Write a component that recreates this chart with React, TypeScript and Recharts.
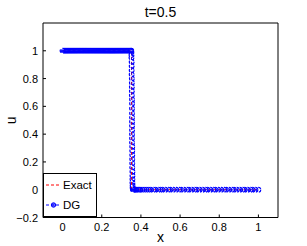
import { Label, Legend, Line, LineChart, XAxis, YAxis } from 'recharts'

const FONT = '"Liberation Sans", Arial, Helvetica, sans-serif'
const BLUE = '#0000FF'
const RED = '#FF0000'

const title = 't=0.5'
const legendOrder = ['Exact', 'DG']
const xTicks = [0, 0.2, 0.4, 0.6, 0.8, 1]
const uTicks = [-0.2, 0, 0.2, 0.4, 0.6, 0.8, 1]

// exact solution: step at the shock
const exactX = [0, 0.352, 0.352, 1]
const exactU = [1, 1, 0, 0]

// DG nodal values (dense left state, then the shock, then the right state)
const plateauX = [
  0, 0.005, 0.01, 0.015, 0.02, 0.025, 0.03, 0.035, 0.04, 0.045, 0.05, 0.055,
  0.06, 0.065, 0.07, 0.075, 0.08, 0.085, 0.09, 0.095, 0.1, 0.105, 0.11, 0.115,
  0.12, 0.125, 0.13, 0.135, 0.14, 0.145, 0.15, 0.155, 0.16, 0.165, 0.17, 0.175,
  0.18, 0.185, 0.19, 0.195, 0.2, 0.205, 0.21, 0.215, 0.22, 0.225, 0.23, 0.235,
  0.24, 0.245, 0.25, 0.255, 0.26, 0.265, 0.27, 0.275, 0.28, 0.285, 0.29, 0.295,
  0.3, 0.305, 0.31, 0.315, 0.32, 0.325, 0.33, 0.335, 0.34, 0.345, 0.349, 0.351,
]
const dropX = [
  0.352, 0.352, 0.352, 0.353, 0.353, 0.353, 0.353, 0.354, 0.354, 0.354, 0.354,
  0.354, 0.355, 0.355, 0.355, 0.355, 0.355, 0.355, 0.355, 0.355, 0.355, 0.355,
  0.355, 0.356, 0.356, 0.356, 0.356, 0.356, 0.356, 0.357, 0.357, 0.357, 0.357,
  0.358, 0.358, 0.359,
]
const dropU = [
  0.99, 0.97, 0.95, 0.92, 0.89, 0.86, 0.83, 0.8, 0.77, 0.74, 0.71, 0.68, 0.65,
  0.62, 0.585, 0.55, 0.52, 0.49, 0.46, 0.43, 0.4, 0.37, 0.34, 0.31, 0.28, 0.25,
  0.22, 0.19, 0.16, 0.13, 0.1, 0.075, 0.05, 0.03, 0.015, 0.005,
]
const floorX = [
  0.36, 0.363, 0.366, 0.37, 0.375, 0.38, 0.387, 0.393, 0.4, 0.41, 0.42, 0.43,
  0.44, 0.45, 0.465, 0.475, 0.49, 0.5, 0.51, 0.525, 0.54, 0.55, 0.565, 0.58,
  0.595, 0.605, 0.62, 0.635, 0.645, 0.66, 0.675, 0.685, 0.7, 0.715, 0.73, 0.74,
  0.755, 0.77, 0.78, 0.795, 0.81, 0.825, 0.835, 0.85, 0.865, 0.875, 0.89, 0.905,
  0.92, 0.93, 0.945, 0.96, 0.97, 0.985, 1,
]

const exactData = exactX.map((x, i) => ({ x, u: exactU[i] }))
const dgData = [
  ...plateauX.map((x) => ({ x, u: 1 })),
  ...dropX.map((x, i) => ({ x, u: dropU[i] })),
  ...floorX.map((x) => ({ x, u: 0 })),
]

const fmt = (v: number) => (v < 0 ? `\u2212${Math.abs(v)}` : String(v))

function BottomTick({ x, y, payload }: any) {
  return (
    <g>
      <line x1={x} y1={y} x2={x} y2={y - 3} stroke="#000" />
      <text x={x} y={y + 13} textAnchor="middle" fontSize={11} fontFamily={FONT} fill="#000">
        {fmt(payload.value)}
      </text>
    </g>
  )
}

function LeftTick({ x, y, payload }: any) {
  return (
    <g>
      <line x1={x} y1={y} x2={x + 3} y2={y} stroke="#000" />
      <text x={x - 5} y={y + 4} textAnchor="end" fontSize={11} fontFamily={FONT} fill="#000">
        {fmt(payload.value)}
      </text>
    </g>
  )
}

const TopTick = ({ x, y }: any) => <line x1={x} y1={y} x2={x} y2={y + 3} stroke="#000" />
const RightTick = ({ x, y }: any) => <line x1={x} y1={y} x2={x - 3} y2={y} stroke="#000" />

function LegendBox({ payload }: any) {
  const entries = [...(payload ?? [])].sort(
    (a: any, b: any) => legendOrder.indexOf(a.value) - legendOrder.indexOf(b.value),
  )
  return (
    <div
      style={{
        boxSizing: 'border-box',
        width: 54,
        height: 44,
        border: '1px solid #000',
        background: '#fff',
      }}
    >
      <svg width={52} height={42} style={{ display: 'block' }}>
        {entries.map((entry: any, i: number) => {
          const cy = 11 + i * 20
          return (
            <g key={entry.value}>
              <line x1={2} x2={17} y1={cy} y2={cy} stroke={entry.color} strokeDasharray="3 2" />
              {entry.value === 'DG' ? (
                <circle cx={9.5} cy={cy} r={2.2} stroke={BLUE} fill={BLUE} fillOpacity={0.6} />
              ) : null}
              <text x={19} y={cy + 4} fontSize={11.5} fontFamily={FONT} fill="#000">
                {entry.value}
              </text>
            </g>
          )
        })}
      </svg>
    </div>
  )
}

export default function App() {
  return (
    <div style={{ position: 'absolute', left: 0, top: 0, background: '#fff' }}>
      <LineChart width={307} height={246} margin={{ top: 0, right: 0, bottom: 0, left: 0 }}>
        <XAxis
          dataKey="x"
          type="number"
          domain={[-0.1, 1.1]}
          ticks={xTicks}
          interval={0}
          height={28.5}
          tickSize={0}
          tickMargin={0}
          tick={<BottomTick />}
          axisLine={{ stroke: '#000' }}
        >
          <Label
            content={({ viewBox }: any) => (
              <text
                x={viewBox.x + viewBox.width / 2}
                y={242}
                textAnchor="middle"
                fontSize={14}
                fontFamily={FONT}
              >
                x
              </text>
            )}
          />
        </XAxis>
        <XAxis
          xAxisId="top"
          orientation="top"
          dataKey="x"
          type="number"
          domain={[-0.1, 1.1]}
          ticks={xTicks}
          interval={0}
          height={23}
          tickSize={0}
          tickMargin={0}
          tick={<TopTick />}
          axisLine={{ stroke: '#000' }}
        >
          <Label
            content={({ viewBox }: any) => (
              <text
                x={viewBox.x + viewBox.width / 2}
                y={17}
                textAnchor="middle"
                fontSize={14}
                fontFamily={FONT}
              >
                {title}
              </text>
            )}
          />
        </XAxis>
        <YAxis
          type="number"
          domain={[-0.2, 1.2]}
          ticks={uTicks}
          interval={0}
          width={43}
          tickSize={0}
          tickMargin={0}
          tick={<LeftTick />}
          axisLine={{ stroke: '#000' }}
        >
          <Label
            content={({ viewBox }: any) => {
              const cy = viewBox.y + viewBox.height / 2
              return (
                <text
                  x={16}
                  y={cy}
                  textAnchor="middle"
                  fontSize={14}
                  fontFamily={FONT}
                  transform={`rotate(-90 16 ${cy})`}
                >
                  u
                </text>
              )
            }}
          />
        </YAxis>
        <YAxis
          yAxisId="right"
          orientation="right"
          type="number"
          domain={[-0.2, 1.2]}
          ticks={uTicks}
          interval={0}
          width={29}
          tickSize={0}
          tickMargin={0}
          tick={<RightTick />}
          axisLine={{ stroke: '#000' }}
        />
        <Line
          data={exactData}
          dataKey="u"
          name="Exact"
          type="linear"
          stroke={RED}
          strokeDasharray="3 2"
          dot={false}
          isAnimationActive={false}
        />
        <Line
          data={dgData}
          dataKey="u"
          name="DG"
          type="linear"
          stroke={BLUE}
          strokeDasharray="3 2"
          strokeWidth={0.8}
          dot={{ r: 2.4, stroke: BLUE, strokeWidth: 1.2, fill: 'none' }}
          isAnimationActive={false}
        />
        <Legend
          layout="vertical"
          align="center"
          verticalAlign="middle"
          wrapperStyle={{ left: 43, top: 173, width: 54, height: 44 }}
          content={<LegendBox />}
        />
      </LineChart>
    </div>
  )
}
